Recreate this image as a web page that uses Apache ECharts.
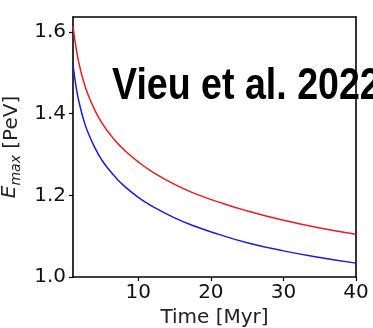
<!DOCTYPE html>
<html>
<head>
<meta charset="utf-8">
<script src="https://cdn.jsdelivr.net/npm/echarts@6/dist/echarts.min.js"></script>
<style>
  html, body { margin: 0; padding: 0; background: #fff; }
  #chart { width: 373px; height: 328px; }
</style>
</head>
<body>
<div id="chart"></div>
<script>
// Maximum energy vs. time, two models
const timeMyr = [1, 1.5, 2, 2.5, 3, 4, 5, 6, 7, 8, 10, 12, 15, 18, 21, 25, 30, 35, 40];
const emaxRed = [1.615, 1.553, 1.51, 1.477, 1.45, 1.409, 1.377, 1.352, 1.33, 1.312, 1.282, 1.257, 1.227, 1.203, 1.184, 1.162, 1.139, 1.12, 1.105];
const emaxBlue = [1.52, 1.458, 1.416, 1.383, 1.357, 1.317, 1.286, 1.262, 1.2415, 1.224, 1.195, 1.1725, 1.145, 1.123, 1.105, 1.084, 1.064, 1.048, 1.034];
const xTicks = [10, 20, 30, 40];
const yTicks = [1.0, 1.2, 1.4, 1.6];
const citation = 'Vieu et al. 2022';

const pairs = (xs, ys) => xs.map((x, i) => [x, ys[i]]);

const tickFont = { fontFamily: 'DejaVu Sans', fontSize: 20, color: '#111' };

const chart = echarts.init(document.getElementById('chart'), null, { renderer: 'canvas' });
chart.setOption({
  backgroundColor: '#fff',
  animation: false,
  grid: { left: 73, right: 17, top: 17, bottom: 51, show: false, outerBoundsMode: 'none', containLabel: false },
  graphic: [{
    type: 'text',
    z: -10,
    x: 112,
    y: 64,
    scaleX: 0.835,
    style: {
      text: citation,
      fontFamily: '"Liberation Sans", Arial, sans-serif',
      fontWeight: 'bold',
      fontSize: 45,
      fill: '#000'
    }
  }],
  xAxis: [{
    type: 'value',
    min: 1, max: 40,
    name: 'Time [Myr]',
    nameLocation: 'middle',
    nameGap: 26,
    nameTextStyle: { fontFamily: 'DejaVu Sans', fontSize: 20, color: '#222' },
    splitLine: { show: false },
    axisLine: { show: true, onZero: false, lineStyle: { color: '#000', width: 1.6 } },
    axisTick: { show: true, length: 4, customValues: xTicks, lineStyle: { color: '#000', width: 1.2 } },
    axisLabel: Object.assign({ customValues: xTicks, margin: 6 }, tickFont)
  }, {
    type: 'value', position: 'top', min: 1, max: 40,
    axisLine: { show: true, onZero: false, lineStyle: { color: '#000', width: 1.6 } },
    axisTick: { show: false }, axisLabel: { show: false }, splitLine: { show: false }
  }],
  yAxis: [{
    type: 'value',
    min: 1.0, max: 1.637,
    name: '{i|E}{s|max} [PeV]',
    nameLocation: 'middle',
    nameRotate: 90,
    nameGap: 43,
    nameTextStyle: {
      fontFamily: 'DejaVu Sans', fontSize: 20, color: '#222',
      rich: {
        i: { fontFamily: 'DejaVu Sans', fontStyle: 'italic', fontSize: 20, color: '#222', verticalAlign: 'top', lineHeight: 23 },
        s: { fontFamily: 'DejaVu Sans', fontStyle: 'italic', fontSize: 14, color: '#222', verticalAlign: 'bottom', lineHeight: 23 }
      }
    },
    splitLine: { show: false },
    axisLine: { show: true, onZero: false, lineStyle: { color: '#000', width: 1.6 } },
    axisTick: { show: true, length: 4, customValues: yTicks, lineStyle: { color: '#000', width: 1.2 } },
    axisLabel: Object.assign({ customValues: yTicks, margin: 7, formatter: v => v.toFixed(1) }, tickFont)
  }, {
    type: 'value', position: 'right', min: 1.0, max: 1.637,
    axisLine: { show: true, onZero: false, lineStyle: { color: '#000', width: 1.6 } },
    axisTick: { show: false }, axisLabel: { show: false }, splitLine: { show: false }
  }],
  series: [{
    type: 'line',
    data: pairs(timeMyr, emaxRed),
    smooth: 0.5,
    showSymbol: false,
    lineStyle: { color: '#e81c24', width: 1.5 }
  }, {
    type: 'line',
    data: pairs(timeMyr, emaxBlue),
    smooth: 0.5,
    showSymbol: false,
    lineStyle: { color: '#1c1cdc', width: 1.5 }
  }]
});
</script>
</body>
</html>
